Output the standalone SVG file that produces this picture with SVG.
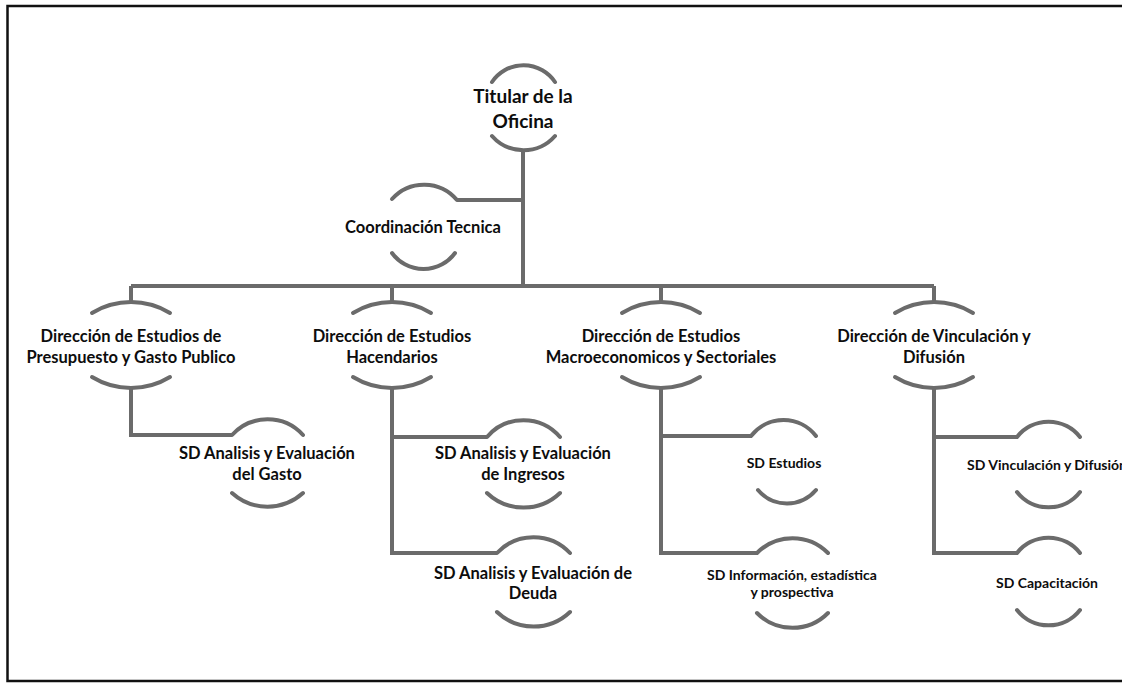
<svg xmlns="http://www.w3.org/2000/svg" width="1122" height="683" viewBox="0 0 1122 683">
<style>
.frame{fill:none;stroke:#111;stroke-width:2.5}
.arc{fill:none;stroke:#6b6b6b;stroke-width:4;stroke-linecap:round}
.con{fill:none;stroke:#6b6b6b;stroke-width:4;stroke-linejoin:miter;stroke-linecap:butt}
text{font-family:Lato,"Liberation Sans",sans-serif;font-weight:bold;fill:#0d0d0d;text-anchor:middle}
.t-top{font-size:19px}
.t-dir{font-size:16.5px}
.t-sd{font-size:16.5px}
.t-sm{font-size:14px}
</style>
<rect width="1122" height="683" fill="#ffffff"/>
<path class="frame" d="M1122,6 H7.5 V681 H1122"/>

<g id="connectors">
  <path class="con" d="M523,150 V286"/>
  <path class="con" d="M523,200 H457"/>
  <path class="con" d="M131,286 H934"/>
  <path class="con" d="M131,286 V302"/>
  <path class="con" d="M392,286 V302"/>
  <path class="con" d="M661,286 V302"/>
  <path class="con" d="M934,286 V302"/>
  <path class="con" d="M131,388 V435 H232"/>
  <path class="con" d="M392,388 V553 H497"/>
  <path class="con" d="M392,437 H487"/>
  <path class="con" d="M661,388 V553 H757"/>
  <path class="con" d="M661,436 H751"/>
  <path class="con" d="M934,388 V553 H1017"/>
  <path class="con" d="M934,437 H1017"/>
</g>

<g id="titular">
  <path class="arc" d="M492,82 A38 38 0 0 1 555,82"/>
  <path class="arc" d="M492,136 A42 42 0 0 0 555,136"/>
  <text class="t-top" x="523" y="103">Titular de la</text>
  <text class="t-top" x="523" y="128">Oficina</text>
</g>

<g id="coordinacion">
  <path class="arc" d="M392,199 A43 43 0 0 1 457,200"/>
  <path class="arc" d="M392,253 A39 39 0 0 0 455,253"/>
  <text class="t-dir" x="423" y="233">Coordinación Tecnica</text>
</g>

<g id="dir-presupuesto">
  <path class="arc" d="M92,313 A75 75 0 0 1 170,313"/>
  <path class="arc" d="M92,377 A75 75 0 0 0 170,377"/>
  <text class="t-dir" x="131" y="342">Dirección de Estudios de</text>
  <text class="t-dir" x="131" y="363">Presupuesto y Gasto Publico</text>
</g>

<g id="dir-hacendarios">
  <path class="arc" d="M353,313 A75 75 0 0 1 431,313"/>
  <path class="arc" d="M353,377 A75 75 0 0 0 431,377"/>
  <text class="t-dir" x="392" y="342">Dirección de Estudios</text>
  <text class="t-dir" x="392" y="363">Hacendarios</text>
</g>

<g id="dir-macro">
  <path class="arc" d="M622,313 A75 75 0 0 1 700,313"/>
  <path class="arc" d="M622,377 A75 75 0 0 0 700,377"/>
  <text class="t-dir" x="661" y="342">Dirección de Estudios</text>
  <text class="t-dir" x="661" y="363">Macroeconomicos y Sectoriales</text>
</g>

<g id="dir-vinculacion">
  <path class="arc" d="M895,313 A75 75 0 0 1 973,313"/>
  <path class="arc" d="M895,377 A75 75 0 0 0 973,377"/>
  <text class="t-dir" x="934" y="342">Dirección de Vinculación y</text>
  <text class="t-dir" x="934" y="363">Difusión</text>
</g>

<g id="sd-gasto">
  <path class="arc" d="M232,435 A48 48 0 0 1 303,435"/>
  <path class="arc" d="M232,493 A53 53 0 0 0 303,493"/>
  <text class="t-sd" x="267" y="459">SD Analisis y Evaluación</text>
  <text class="t-sd" x="267" y="480">del Gasto</text>
</g>

<g id="sd-ingresos">
  <path class="arc" d="M487,437 A48 48 0 0 1 560,437"/>
  <path class="arc" d="M487,493 A53 53 0 0 0 560,493"/>
  <text class="t-sd" x="523" y="459">SD Analisis y Evaluación</text>
  <text class="t-sd" x="523" y="480">de Ingresos</text>
</g>

<g id="sd-deuda">
  <path class="arc" d="M497,553 A50 50 0 0 1 570,553"/>
  <path class="arc" d="M497,612 A53 53 0 0 0 570,612"/>
  <text class="t-sd" x="533" y="579">SD Analisis y Evaluación de</text>
  <text class="t-sd" x="533" y="599">Deuda</text>
</g>

<g id="sd-estudios">
  <path class="arc" d="M751,436 A41 41 0 0 1 816,436"/>
  <path class="arc" d="M758,490 A38 38 0 0 0 816,490"/>
  <text class="t-sm" x="784" y="468">SD Estudios</text>
</g>

<g id="sd-informacion">
  <path class="arc" d="M757,553 A50 50 0 0 1 828,553"/>
  <path class="arc" d="M757,613 A50 50 0 0 0 828,613"/>
  <text class="t-sm" x="792" y="580">SD Información, estadística</text>
  <text class="t-sm" x="792" y="597">y prospectiva</text>
</g>

<g id="sd-vinculacion">
  <path class="arc" d="M1017,437 A40 40 0 0 1 1080,437"/>
  <path class="arc" d="M1017,492 A40 40 0 0 0 1080,492"/>
  <text class="t-sm" x="967" y="470" style="text-anchor:start">SD Vinculación y Difusión</text>
</g>

<g id="sd-capacitacion">
  <path class="arc" d="M1017,553 A40 40 0 0 1 1080,553"/>
  <path class="arc" d="M1017,610 A40 40 0 0 0 1080,610"/>
  <text class="t-sm" x="1047" y="588">SD Capacitación</text>
</g>
</svg>
